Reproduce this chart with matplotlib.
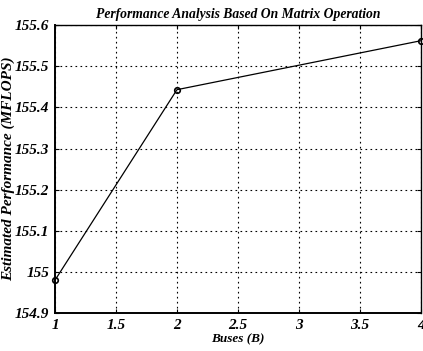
import matplotlib
matplotlib.use('Agg')
import matplotlib.pyplot as plt

# data
buses = [1, 2, 4]
performance = [154.98, 155.443, 155.562]

xticks = [1, 1.5, 2, 2.5, 3, 3.5, 4]
yticks = [154.9, 155.0, 155.1, 155.2, 155.3, 155.4, 155.5, 155.6]
ytick_labels = ['154.9', '155', '155.1', '155.2', '155.3', '155.4', '155.5', '155.6']

font = {'family': 'Liberation Serif', 'style': 'italic', 'weight': 'bold'}

fig = plt.figure(figsize=(4.23, 3.51), dpi=100)
ax = fig.add_axes([0.130, 0.108, 0.865, 0.8205])

ax.plot(buses, performance, color='black', linewidth=0.9,
        marker='o', markersize=4, markerfacecolor='none',
        markeredgecolor='black', markeredgewidth=1.2, clip_on=False, zorder=3)

ax.set_xlim(1, 4)
ax.set_ylim(154.9, 155.6)
ax.set_xticks(xticks)
ax.set_xticklabels(['1', '1.5', '2', '2.5', '3', '3.5', '4'], fontdict=font, fontsize=11)
ax.set_yticks(yticks)
ax.set_yticklabels(ytick_labels, fontdict=font, fontsize=11)
ax.tick_params(direction='in', length=3, width=0.8, top=True, right=True, pad=4)

ax.grid(True, linestyle=(0, (1.5, 3)), color='black', linewidth=0.8)
for s in ax.spines.values():
    s.set_linewidth(1.0)
    s.set_color('black')
ax.spines['left'].set_linewidth(1.4)
ax.spines['bottom'].set_linewidth(1.4)

ax.set_title('Performance Analysis Based On Matrix Operation', fontdict=font, fontsize=9.8, pad=5)
ax.set_xlabel('Buses (B)', fontdict=font, fontsize=9.5, labelpad=1)
ax.set_ylabel('Estimated Performance (MFLOPS)', fontdict=font, fontsize=11, labelpad=0)

fig.savefig('out.png', dpi=100)
